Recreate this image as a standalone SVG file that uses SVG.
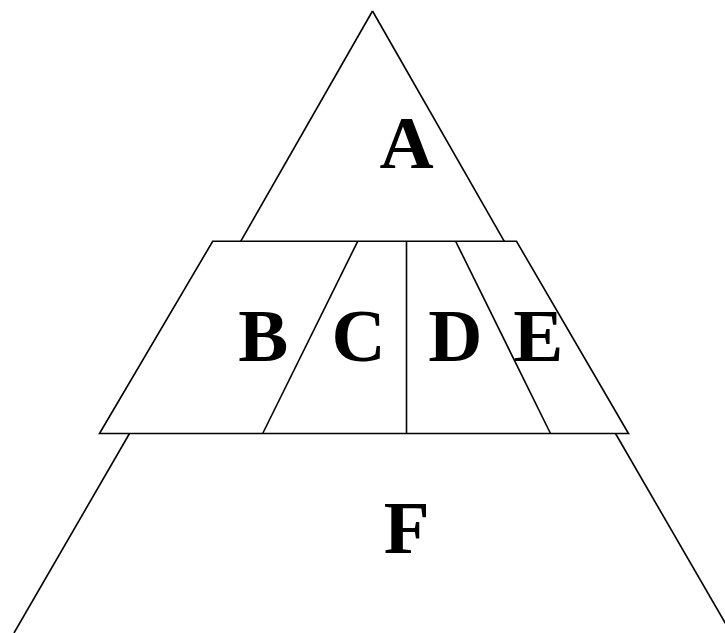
<svg xmlns="http://www.w3.org/2000/svg" width="725" height="633" viewBox="0 0 725 633">
<style>
.ln{stroke:#000;stroke-width:1.6;fill:none;stroke-linecap:butt}
.lb{font-family:"Liberation Serif","Times New Roman",serif;font-weight:bold;font-size:75px;fill:#000;text-anchor:middle}
</style>
<rect width="725" height="633" fill="#fff"/>
<g id="connectors">
<line class="ln" x1="372.5" y1="11" x2="240.7" y2="241.3"/>
<line class="ln" x1="372.5" y1="11" x2="504.3" y2="241.3"/>
<line class="ln" x1="129.5" y1="433.5" x2="14" y2="633"/>
<line class="ln" x1="615.5" y1="433.5" x2="731" y2="633"/>
</g>
<g id="trapezoid">
<polygon class="ln" points="212.7,241.3 516.5,241.3 628.5,433.5 99.5,433.5"/>
<line class="ln" x1="357.7" y1="241.3" x2="262.7" y2="433.5"/>
<line class="ln" x1="406.5" y1="241.3" x2="406.5" y2="433.5"/>
<line class="ln" x1="455.7" y1="241.3" x2="550.5" y2="433.5"/>
</g>
<g id="A"><text class="lb" x="406.7" y="168">A</text></g>
<g id="B"><text class="lb" x="263.3" y="361">B</text></g>
<g id="C"><text class="lb" x="358.7" y="361">C</text></g>
<g id="D"><text class="lb" x="455.3" y="361">D</text></g>
<g id="E"><text class="lb" x="538.3" y="361">E</text></g>
<g id="F"><text class="lb" x="406.7" y="553">F</text></g>
</svg>
